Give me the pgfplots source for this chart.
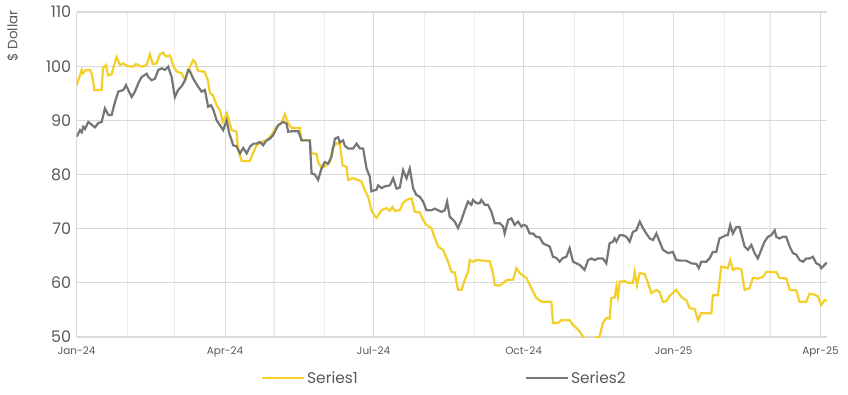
\documentclass[border=0pt]{standalone}
\usepackage{fontspec}
\setmainfont{Poppins}
\usepackage{pgfplots}
\pgfplotsset{compat=1.18}
\definecolor{syellow}{RGB}{242,208,40}
\definecolor{sgray}{RGB}{118,118,118}
\definecolor{gridc}{RGB}{217,217,217}
\definecolor{gridm}{RGB}{236,236,236}
\definecolor{txt}{RGB}{89,89,89}
\begin{document}
\begin{tikzpicture}
\begin{axis}[
  scale only axis,
  width=750.3bp, height=325bp,
  xmin=0, xmax=460, ymin=50, ymax=110,
  ytick={50,60,...,110},
  xtick={0,91,182,274,366,456},
  xticklabels={Jan-24,Apr-24,Jul-24,Oct-24,Jan-25,Apr-25},
  minor xtick={31,60,121,152,213,244,305,335,397,425},
  xmajorgrids, ymajorgrids, xminorgrids,
  major grid style={gridc, line width=1.2bp},
  minor grid style={gridm, line width=1.2bp},
  axis x line=bottom, axis y line=left,
  axis line style={gridc, line width=1.4bp, -},
  major tick length=0pt, minor tick length=0pt,
  /pgf/number format/assume math mode=true,
  yticklabel style={font=\fontsize{16}{18}\selectfont, text=txt, xshift=-2bp},
  xticklabel style={font=\fontsize{10.5}{12}\selectfont, text=txt, yshift=-6bp},
  legend columns=2,
  legend style={at={(rel axis cs:0.49,-0.126)}, anchor=center, draw=none, fill=none,
    font=\fontsize{15.5}{17}\selectfont, text=txt,
    /tikz/every even column/.append style={column sep=165bp}},
  legend image code/.code={\draw[#1] (0bp,0bp) -- (42bp,0bp);},
]
\addplot[syellow, line width=2.2bp] coordinates {
(0,96.5)(3.1,99.3)(3.9,98.7)(5.7,99.3)(8.1,99.3)(9.4,98.5)(10.8,95.6)(15.3,95.6)(16.1,99.6)(18.0,100.2)(19.2,98.3)(21.4,98.5)(23.5,100.8)(24.5,101.7)(26.5,100.2)(28.4,100.5)(31.4,100)(34.5,99.9)(36.3,100.4)(40,99.9)(42.9,100.2)(44.9,102.2)(46.6,100.4)(49,100.5)(51,102.2)(52.9,102.5)(54.7,101.8)(57.2,102)(59,100.2)(61.3,99)(64.3,98.7)(66.4,97.4)(68.2,99)(71.3,101.1)(72.5,100.8)(74.3,99.2)(78.6,98.9)(80.4,97.4)(81.7,95)(83.5,94.6)(85.8,92.8)(87.8,91.9)(89.6,89.7)(92.1,91.3)(95,88.2)(98,87.9)(98.8,84.9)(101.1,82.5)(106.2,82.5)(108,83.9)(110.3,85.4)(113.4,86)(116.4,86.3)(119.5,87.3)(122.5,88.8)(125.6,89.5)(127.6,91.1)(129.5,89.5)(131.7,88.6)(136.8,88.6)(137.9,86.3)(142.9,86.3)(144,83.9)(147,83.8)(148,82.3)(150.1,81.2)(153.2,81.7)(155.2,82.3)(157,84.9)(159.3,85.8)(161.3,85.6)(163,81.7)(165.4,81.4)(166.4,79)(169.3,79.3)(171.6,79.1)(174.6,78.7)(176.6,77.1)(178.7,75.9)(180.7,73.4)(182.8,72.3)(183.8,72)(186.9,73.4)(189.9,73.8)(192,73.3)(193.6,74)(195,73.3)(198.1,73.4)(199.9,74.7)(202.2,75.3)(205.3,75.6)(207.3,73.1)(210.3,73)(212.4,71.6)(214.4,70.7)(217.5,70.1)(219.5,68.3)(221.6,66.7)(224.6,66.1)(227.7,63.9)(229.8,62)(231.8,61.9)(233.8,58.7)(235.9,58.7)(237.9,60.5)(239.9,62)(241,64.2)(243,63.9)(245.1,64.2)(253.2,64)(255.2,61.8)(256.3,59.6)(259.4,59.5)(261.4,59.9)(263.5,60.5)(267.5,60.6)(269.6,62.7)(271.6,61.8)(274.7,61.1)(275.7,60.9)(278.8,59)(281.8,57.2)(284.9,56.5)(291,56.5)(292,52.6)(295.1,52.6)(297.2,53.1)(302.2,53.1)(304.3,52.2)(306.3,51.7)(308.4,51)(310.4,50.1)(312.5,48.8)(314.5,49)(317.6,49.8)(320.6,50.1)(322.6,52.6)(324.7,53.5)(326.7,53.4)(327.8,57.2)(329.8,57.3)(330.9,59.3)(331.8,57.5)(332.9,60.2)(335.9,60.3)(338,60)(341,60)(342.1,62)(343.5,59.6)(345.2,61.8)(348.2,61.6)(350.2,60)(352.3,58.1)(355.4,58.7)(357.4,58.3)(359.4,56.5)(361.5,56.6)(363.5,57.6)(367.6,58.7)(370.7,57.4)(373.7,56.8)(375.8,55.3)(378.8,55.2)(380.9,53.1)(382.9,54.4)(389.1,54.4)(390,57.7)(393.1,57.7)(395.2,63)(397.2,62.9)(399.2,62.7)(400.7,64.2)(402.3,62.4)(404.4,62.7)(407.4,62.5)(409.5,58.7)(412.5,59)(414.5,60.9)(417.6,60.8)(420.7,61.1)(422.7,62)(428.9,62)(430.9,60.9)(435,60.8)(437.1,58.7)(441.2,58.6)(443.2,56.5)(447.3,56.5)(449.3,58)(452.4,57.8)(454.4,57.5)(456.5,55.9)(458.5,56.8)(460,56.7)
};
\addlegendentry{Series1}
\addplot[sgray, line width=2.2bp] coordinates {
(0,87)(2,88.2)(3.1,87.8)(4,88.8)(5.1,88.4)(7.1,89.7)(9.2,89.2)(11.2,88.7)(13.2,89.5)(15.3,89.7)(17.3,92.2)(19.4,91)(21.4,91)(23.5,93.4)(25.5,95.3)(28.6,95.6)(30.2,96.5)(31.6,95.6)(33.7,94.3)(35.7,95.3)(37.7,96.8)(39.8,98)(42.9,98.6)(43.9,98)(46,97.4)(48,97.7)(50,99.3)(52.1,99.6)(54.1,99.3)(56.1,99.9)(58.2,98)(60.2,94.3)(62.2,95.6)(64.3,96.3)(66.4,97.4)(68.4,99.3)(69.4,99.1)(71.4,97.7)(74.5,96.2)(76.6,95.3)(78.6,95.6)(80.6,92.5)(82.3,92.8)(83.7,92)(85.8,90)(87.8,89.1)(89.8,88.2)(91.9,90)(93.5,87.6)(95,86.3)(95.9,85.4)(98,85.2)(100.1,83.9)(102.1,84.9)(104.2,83.9)(106.2,85.1)(108.2,85.7)(110.3,85.7)(112.3,86)(114.3,85.4)(116.4,86.3)(118.4,86.6)(120.5,87.3)(123.5,89.1)(126.6,89.7)(128.7,89.4)(129.6,87.9)(132.7,88)(135.8,88)(137.9,86.3)(142.9,86.3)(144,80.2)(146,80)(148,79)(150.1,81.1)(152.1,82.3)(154.2,82)(156.2,83.3)(158.3,86.6)(160.3,86.9)(161.3,85.9)(163.3,86.3)(164.4,85.3)(166.4,84.8)(169.5,84.8)(171.6,85.7)(173.6,84.8)(175.6,84.8)(177.7,81.1)(179.7,79.6)(180.7,76.9)(183.8,77.2)(184.8,78)(186.9,77.5)(188.9,77.8)(192,78)(194,79.3)(196.1,77.4)(198.1,77.6)(200.1,80.8)(202.2,79.3)(204.2,81.1)(206.3,77.4)(208.3,76.2)(210.3,75.9)(212.4,75)(214.4,73.4)(217.5,73.4)(219.5,73.7)(221.6,73.4)(223.6,73.1)(225.7,73.4)(227.1,75)(228.7,72.2)(231.8,71.3)(233.8,70.1)(235.9,71.6)(237.9,73.4)(239.9,75)(242,74.4)(243,75.3)(245.1,74.7)(247.1,74.7)(248.1,75.3)(250.2,74.4)(252.2,74.4)(254.3,73.1)(256.3,71)(259.4,71)(261.4,70.4)(262.4,69.1)(264.5,71.6)(266.5,71.9)(268.5,70.7)(270.6,71.3)(272.6,70.4)(274,70.7)(275.7,70.5)(277.7,69.1)(279.8,69.1)(281.8,68.5)(283.8,68.4)(285.9,67.3)(287.9,67)(290,66.7)(292,64.8)(294.1,64.6)(296.1,63.9)(298.1,64.6)(300.2,64.8)(302.2,66.4)(304.3,63.9)(306.3,63.6)(308.4,63.3)(311.4,62.4)(313.5,64.2)(315.5,64.5)(317.6,64.2)(319.6,64.5)(322.6,64.5)(324.7,63.6)(326.7,67.3)(328.8,67.6)(329.8,68.2)(330.9,67.6)(332.9,68.8)(334.9,68.8)(337,68.5)(339,67.6)(341,69.4)(343.1,69.7)(345.2,71.3)(347.2,70.1)(349.2,69.1)(351.3,68.2)(353.3,67.9)(355.4,69.1)(357.4,67.6)(359.4,66.1)(362.5,65.5)(365.5,65.7)(367.6,64.2)(370.7,64.1)(373.7,64.1)(376.8,63.6)(379.9,63.5)(381.4,62.7)(382.9,63.9)(386,63.9)(388,64.5)(390,65.7)(392.1,65.7)(394.1,68.2)(396.2,68.5)(398.2,68.8)(399.2,68.8)(400.7,70.7)(402.3,69.1)(404.4,70.3)(406.4,70.3)(407.4,69.1)(409.5,66.7)(411.5,66.1)(413.6,67)(415.6,65.5)(417.6,64.5)(419.7,66.1)(421.7,67.6)(423.8,68.5)(425.8,68.8)(427.9,69.7)(428.9,68.5)(430.9,68.2)(433,68.5)(435,68.5)(437.1,66.7)(439.1,65.5)(441.2,65.2)(443.2,64.2)(445.3,63.9)(447.3,64.5)(449.3,64.5)(451.4,64.8)(453.4,63.6)(455.4,63.3)(456.5,62.7)(459.5,63.6)(460,63.6)
};
\addlegendentry{Series2}
\end{axis}
\node[rotate=90, anchor=east, font=\fontsize{13.5}{15}\selectfont, text=txt] at (-64bp,330bp) {\$ Dollar};
\pgfresetboundingbox
\path[use as bounding box] (-76.7bp,-58bp) rectangle (771.3bp,337bp);
\end{tikzpicture}
\end{document}
